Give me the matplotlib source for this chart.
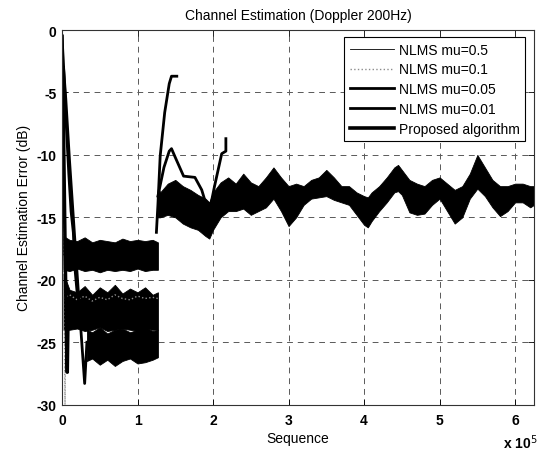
import numpy as np
import matplotlib
matplotlib.use('Agg')
import matplotlib.pyplot as plt

plt.rcParams['font.family'] = ['Liberation Sans', 'DejaVu Sans']

# ---------------- data (sequence index in units of 1e5) ----------------
# start-up convergence traces
conv_mu05_x = [0.0, 0.003, 0.006, 0.01, 0.015]
conv_mu05_y = [0.0, -6.0, -12.0, -16.5, -18.0]
conv_mu01_x = [0.0, 0.01, 0.02, 0.03, 0.04, 0.05]
conv_mu01_y = [-1.0, -8.0, -15.0, -22.0, -30.0, -21.5]
conv_mu005_x = [0.0, 0.03, 0.06, 0.09, 0.12, 0.15, 0.17, 0.2]
conv_mu005_y = [-0.5, -4.0, -8.0, -11.5, -14.5, -16.2, -19.0, -21.0]
conv_mu001_x = [0.02, 0.05, 0.1, 0.15, 0.2, 0.25, 0.3, 0.33]
conv_mu001_y = [-3.0, -5.5, -10.5, -15.0, -19.5, -24.0, -28.3, -25.0]
conv_prop_x = [0.0, 0.02, 0.04, 0.06, 0.07, 0.08]
conv_prop_y = [-0.5, -8.0, -17.0, -25.0, -27.4, -23.0]

# stage 1 steady-state bands (upper / lower envelope)
s1_x = [0.02, 0.1, 0.2, 0.3, 0.4, 0.5, 0.6, 0.7, 0.8, 0.9, 1.0, 1.1, 1.2, 1.27]
mu05_hi = [-16.5, -16.8, -16.9, -16.6, -17.0, -16.8, -16.9, -17.0, -16.7, -16.9, -16.8, -16.9, -16.8, -17.0]
mu05_lo = [-19.2, -19.3, -19.1, -19.3, -19.2, -19.4, -19.2, -19.3, -19.2, -19.3, -19.1, -19.3, -19.2, -19.2]
mu01_mid = [-21.5, -21.2, -21.6, -21.3, -21.7, -21.4, -21.6, -21.2, -21.5, -21.6, -21.3, -21.5, -21.4, -21.5]
prop_hi = [-19.5, -20.8, -21.0, -20.5, -21.2, -20.6, -21.0, -20.4, -21.1, -20.7, -21.0, -20.6, -21.2, -21.0]
prop_lo = [-24.0, -24.0, -23.9, -24.1, -24.0, -23.8, -24.1, -24.0, -23.9, -24.0, -24.1, -23.9, -24.0, -24.0]
s1c_x = [0.33, 0.4, 0.5, 0.6, 0.7, 0.8, 0.9, 1.0, 1.1, 1.2, 1.27]
mu001_hi = [-24.0, -24.2, -23.8, -24.3, -24.0, -23.9, -24.2, -24.0, -23.8, -24.1, -24.0]
mu001_lo = [-26.5, -26.3, -26.8, -26.4, -26.9, -26.5, -26.3, -26.7, -26.6, -26.4, -26.2]

# stage 2 (after the Doppler change at ~1.27e5)
mu001_s2_x = [1.25, 1.27, 1.30, 1.36, 1.42, 1.45, 1.52]
mu001_s2_y = [-16.2, -14.0, -10.1, -6.6, -4.3, -3.7, -3.7]
mu005_s2_x = [1.27, 1.35, 1.42, 1.45, 1.50, 1.61, 1.76, 1.85, 1.92, 1.95, 2.02, 2.115, 2.17, 2.17]
mu005_s2_y = [-13.3, -11.0, -9.7, -9.5, -10.2, -11.7, -11.8, -12.8, -14.2, -14.6, -12.5, -9.9, -9.7, -8.7]

s2_x = [1.27, 1.3, 1.4, 1.5, 1.6, 1.7, 1.8, 1.9, 1.95, 2.0, 2.1, 2.2, 2.3, 2.4, 2.5, 2.6, 2.7, 2.8,
        2.9, 3.0, 3.1, 3.2, 3.3, 3.4, 3.5, 3.6, 3.7, 3.8, 3.9, 4.0, 4.05, 4.1, 4.2, 4.3, 4.4, 4.45,
        4.5, 4.6, 4.7, 4.8, 4.9, 5.0, 5.1, 5.2, 5.3, 5.4, 5.5, 5.6, 5.7, 5.8, 5.9, 6.0, 6.1, 6.2, 6.25]
s2_hi = [-12.5, -13.0, -12.3, -12.0, -12.5, -12.8, -13.2, -13.5, -13.8, -13.0, -12.2, -11.8, -12.3, -11.5,
         -12.2, -12.5, -11.8, -11.0, -11.8, -12.5, -12.3, -12.5, -12.0, -11.8, -11.2, -11.8, -12.5, -12.5,
         -13.0, -13.3, -13.4, -13.0, -12.5, -11.8, -11.0, -10.8, -11.2, -12.0, -12.3, -12.5, -12.0, -11.8,
         -12.3, -12.8, -12.5, -11.5, -10.0, -11.0, -12.0, -12.5, -12.5, -12.3, -12.3, -12.5, -12.5]
s2_lo = [-15.0, -15.0, -14.8, -15.0, -15.5, -15.8, -16.0, -16.5, -16.7, -16.0, -15.0, -14.5, -14.5, -14.3,
         -14.8, -14.5, -14.2, -13.5, -14.5, -15.7, -15.0, -14.0, -13.5, -13.4, -13.3, -13.6, -13.8, -14.0,
         -14.8, -15.6, -15.8, -15.3, -14.5, -13.8, -13.0, -12.9, -13.2, -14.6, -14.8, -14.7, -14.0, -13.5,
         -14.5, -15.5, -15.0, -13.5, -12.7, -13.3, -14.2, -14.9, -14.5, -13.8, -13.8, -14.2, -14.0]

labels = ['NLMS mu=0.5', 'NLMS mu=0.1', 'NLMS mu=0.05', 'NLMS mu=0.01', 'Proposed algorithm']
xticks = [0, 1, 2, 3, 4, 5, 6]
yticks = [0, -5, -10, -15, -20, -25, -30]

# ---------------- figure ----------------
fig = plt.figure(figsize=(5.45, 4.52), dpi=100)
ax = fig.add_axes([62/545, 1-405.7/452, (534-62)/545, (405.7-31)/452])

K = 'black'
# stage 1 bands
ax.fill_between(s1_x, mu05_lo, mu05_hi, color=K, lw=0.6)
ax.fill_between(s1_x, prop_lo, prop_hi, color=K, lw=0.6)
ax.fill_between(s1c_x, mu001_lo, mu001_hi, color=K, lw=0.6)
ax.plot(s1_x, mu01_mid, color='0.55', ls=':', lw=1.0)

# start-up transients
ax.plot(conv_mu05_x, conv_mu05_y, color=K, lw=0.8)
ax.plot(conv_mu01_x, conv_mu01_y, color='0.55', ls=':', lw=1.0)
ax.plot(conv_mu005_x, conv_mu005_y, color=K, lw=2.0)
ax.plot(conv_mu001_x, conv_mu001_y, color=K, lw=2.0)
ax.plot(conv_prop_x, conv_prop_y, color=K, lw=2.5)

# stage 2
ax.fill_between(s2_x, s2_lo, s2_hi, color=K, lw=0.6)
ax.plot(mu005_s2_x, mu005_s2_y, color=K, lw=2.0)
ax.plot(mu001_s2_x, mu001_s2_y, color=K, lw=2.0)

# legend proxies
h1, = ax.plot([], [], color=K, lw=0.6, label=labels[0])
h2, = ax.plot([], [], color='0.55', ls=':', lw=1.0, label=labels[1])
h3, = ax.plot([], [], color=K, lw=2.0, label=labels[2])
h4, = ax.plot([], [], color=K, lw=2.0, label=labels[3])
h5, = ax.plot([], [], color=K, lw=2.6, label=labels[4])

ax.set_xlim(0, 6.25)
ax.set_ylim(-30, 0)
ax.set_xticks(xticks)
ax.set_yticks(yticks)
ax.set_xticklabels([str(v) for v in xticks], fontweight='bold', fontsize=10)
ax.set_yticklabels([str(v) for v in yticks], fontweight='bold', fontsize=10)
ax.tick_params(direction='in', length=4, top=True, right=True, width=0.6)
ax.tick_params(axis='x', pad=6)
ax.tick_params(axis='y', pad=4)
ax.set_axisbelow(True)
ax.grid(True, color='0.35', ls=(0, (6, 5)), lw=0.7)
for s in ax.spines.values():
    s.set_linewidth(0.8)
    s.set_color('0.2')

ax.set_title('Channel Estimation (Doppler 200Hz)', fontsize=10, pad=8)
ax.set_xlabel('Sequence', fontsize=10, labelpad=3)
ax.set_ylabel('Channel Estimation Error (dB)', fontsize=10, labelpad=4)
fig.text(538/545, 1-443/452, r'x 10$^5$', fontsize=10, fontweight='bold',
         ha='right', va='center')

leg = ax.legend(handles=[h1, h2, h3, h4, h5], loc='upper right',
                bbox_to_anchor=(525/545, 1-38/452), bbox_transform=fig.transFigure,
                fontsize=10, frameon=True, fancybox=False, framealpha=1,
                edgecolor='black', handlelength=3.2, handletextpad=0.3,
                labelspacing=0.42, borderpad=0.4, borderaxespad=0)
leg.get_frame().set_linewidth(0.8)

fig.savefig('out.png', dpi=100)
